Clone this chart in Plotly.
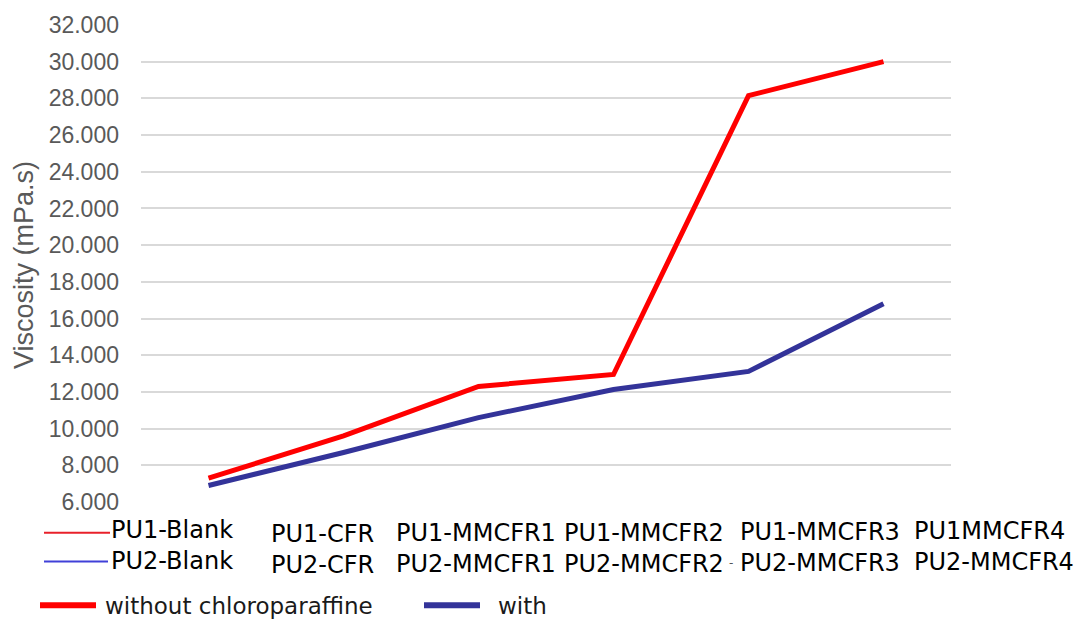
import plotly.graph_objects as go

# Viscosity of the PU formulations, with and without chloroparaffine (mPa.s)
samples = ["Blank", "CFR", "MMCFR1", "MMCFR2", "MMCFR3", "MMCFR4"]
pu1_labels = ["PU1-Blank", "PU1-CFR", "PU1-MMCFR1", "PU1-MMCFR2", "PU1-MMCFR3", "PU1MMCFR4"]
pu2_labels = ["PU2-Blank", "PU2-CFR", "PU2-MMCFR1", "PU2-MMCFR2", "PU2-MMCFR3", "PU2-MMCFR4"]
without_cp = [7300, 9600, 12300, 12950, 28150, 30000]
with_cp = [6900, 8700, 10600, 12130, 13120, 16800]

RED = "#ff0000"
NAVY = "#333399"
W, H = 1081, 623
ML, MR, MT, MB = 141, 130, 21, 121
PW, PH = W - ML - MR, H - MT - MB


def px(x):
    return (x - ML) / PW


def py(y):
    return (H - MB - y) / PH


fig = go.Figure()
fig.add_trace(go.Scatter(x=samples, y=without_cp, mode="lines", name="without chloroparaffine",
                         line=dict(color=RED, width=5), showlegend=False))
fig.add_trace(go.Scatter(x=samples, y=with_cp, mode="lines", name="with",
                         line=dict(color=NAVY, width=5), showlegend=False))

annotations = []
shapes = []

# two-row category labels under the plot (PU1 above, PU2 below)
label_shift = [-99.5, -74.5, -84.5, -51.5, -10.5, 28.5]
label_mid_y = [546, 550, 549, 549, 548, 547]
for i, s in enumerate(samples):
    annotations.append(dict(x=s, xref="x", y=py(label_mid_y[i]), yref="paper",
                            text=pu1_labels[i] + "<br>" + pu2_labels[i],
                            showarrow=False, xanchor="left", yanchor="middle", align="left",
                            xshift=label_shift[i],
                            font=dict(family="DejaVu Sans", size=24, color="#000000")))
annotations.append(dict(x=px(731), xref="paper", y=py(564), yref="paper", text="-",
                        showarrow=False, xanchor="center", yanchor="middle",
                        font=dict(family="DejaVu Sans", size=12, color="#555555")))

# series keys beside the first column of labels
shapes.append(dict(type="line", xref="paper", yref="paper", x0=px(44), x1=px(110),
                   y0=py(533), y1=py(533), line=dict(color="#e8202a", width=2)))
shapes.append(dict(type="line", xref="paper", yref="paper", x0=px(44), x1=px(108),
                   y0=py(562), y1=py(562), line=dict(color="#4040d8", width=2)))

# legend along the bottom
for x0, x1, col, tx, txt in ((40, 96, RED, 103, "without chloroparaffine"),
                             (424, 480, NAVY, 496, "with")):
    shapes.append(dict(type="line", xref="paper", yref="paper", x0=px(x0), x1=px(x1),
                       y0=py(606), y1=py(606), line=dict(color=col, width=6)))
    annotations.append(dict(x=px(tx), xref="paper", y=py(607), yref="paper", text=txt,
                            showarrow=False, xanchor="left", yanchor="middle",
                            font=dict(family="DejaVu Sans", size=23, color="#1a1a1a")))

# y-axis title
annotations.append(dict(x=px(24), xref="paper", y=py(263), yref="paper",
                        text="Viscosity (mPa.s)", textangle=-90, showarrow=False,
                        xanchor="center", yanchor="middle",
                        font=dict(family="Liberation Sans, Arial", size=27, color="#595959")))

fig.update_layout(
    width=W, height=H,
    margin=dict(l=ML, r=MR, t=MT, b=MB),
    paper_bgcolor="white", plot_bgcolor="white",
    separators=",.",
    annotations=annotations, shapes=shapes,
    showlegend=False,
)
fig.update_xaxes(type="category", categoryorder="array", categoryarray=samples,
                 range=[-0.5, 5.5], showticklabels=False, showgrid=False,
                 zeroline=False, showline=False, ticks="")
fig.update_yaxes(range=[6000, 32000], dtick=2000, tick0=0, tickformat=",.0f",
                 showgrid=True, gridcolor="#d9d9d9", gridwidth=2,
                 zeroline=False, showline=False, ticks="", ticklabelstandoff=21,
                 tickfont=dict(family="Liberation Sans, Arial", size=23, color="#595959"))

fig.write_html("out.html")
